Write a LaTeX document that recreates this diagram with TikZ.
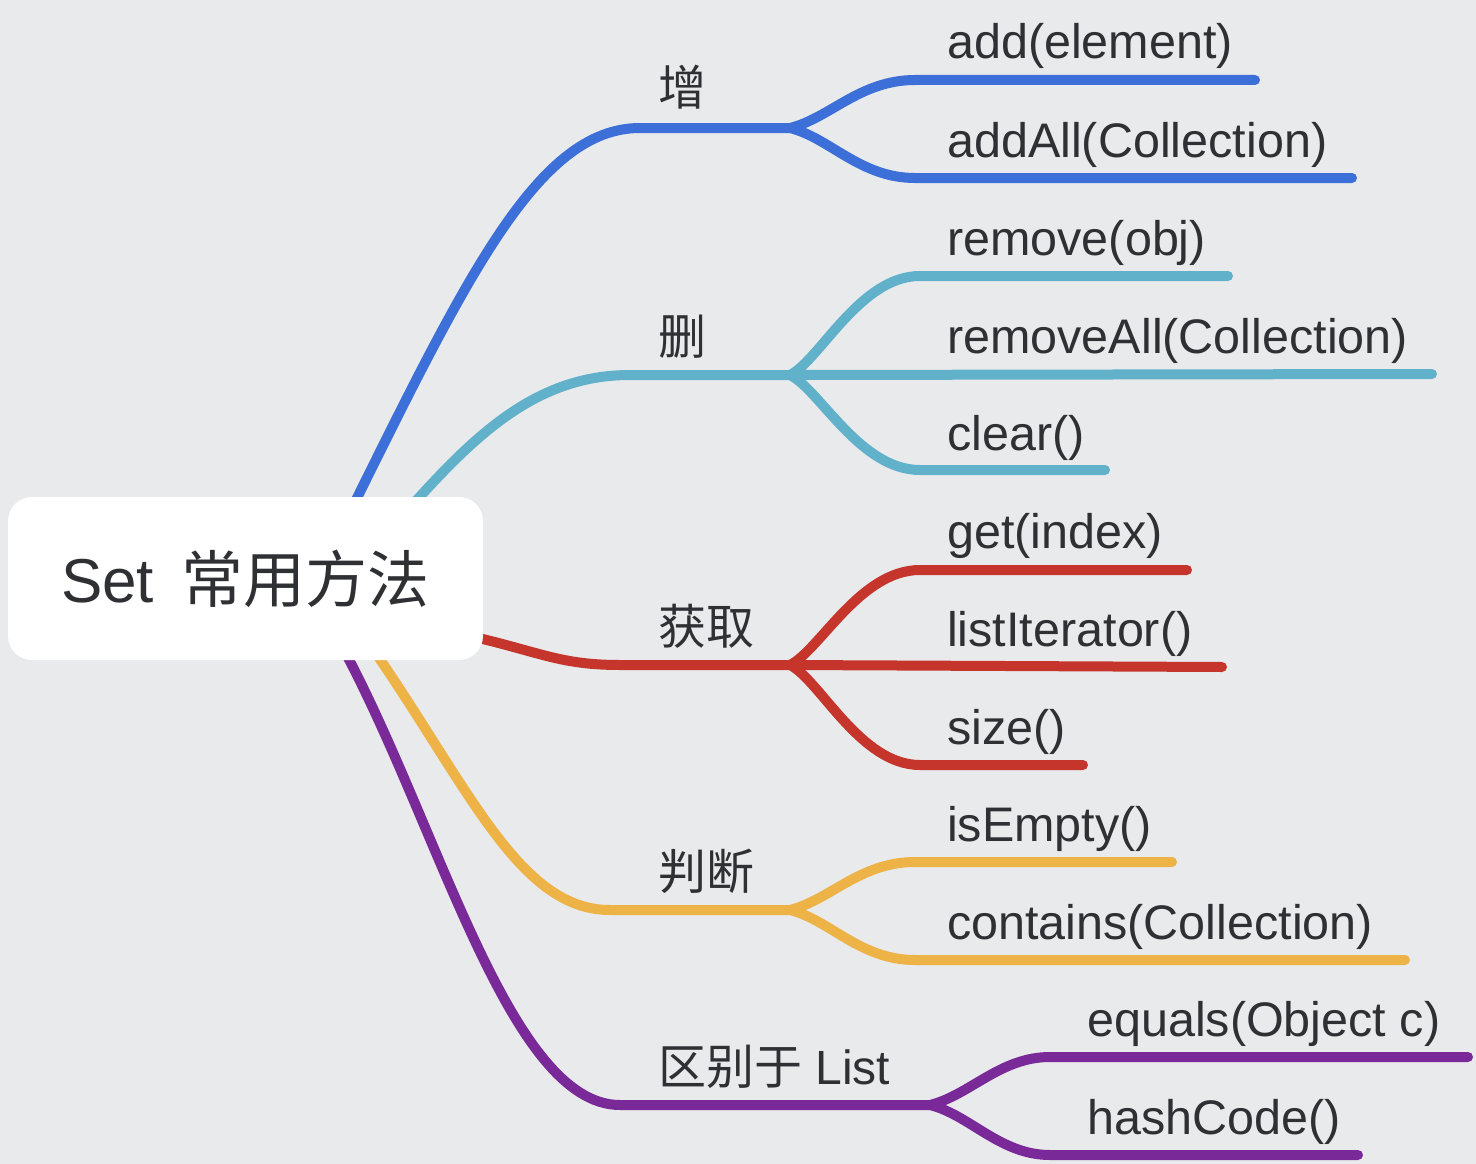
\documentclass[tikz,border=0pt]{standalone}
\usepackage{fontspec}
\setmainfont{Liberation Sans}
\newfontfamily\cjk{Noto Sans CJK SC}
\pgfdeclarelayer{back}
\pgfdeclarelayer{bg}
\pgfsetlayers{back,bg,main}
\definecolor{bgc}{HTML}{E9EAEC}
\definecolor{cblue}{HTML}{3D6FD9}
\definecolor{cteal}{HTML}{62B1CB}
\definecolor{cred}{HTML}{C5352C}
\definecolor{cyel}{HTML}{EDB347}
\definecolor{cpur}{HTML}{7A2A98}
\definecolor{txt}{HTML}{2E3033}
\begin{document}
\begin{tikzpicture}[x=1pt,y=-1pt,
  branch/.style={line width=10pt,line cap=round,line join=round},
  rootbox/.style={fill=white,draw=none,rounded corners=24pt,minimum width=475pt,minimum height=163pt,inner sep=0pt,
     font=\fontsize{62}{64}\selectfont,text=txt},
  lab/.style={anchor=base west,inner sep=0pt,text=txt,font=\fontsize{48}{50}\selectfont},
  leaf/.style={anchor=base west,inner sep=0pt,text=txt,font=\fontsize{48.5}{50}\selectfont}]
\begin{pgfonlayer}{back}
\fill[bgc] (0,0) rectangle (1476,1164);
\end{pgfonlayer}
\useasboundingbox (0,0) rectangle (1476,1164);

\node[rootbox] (root) at (245.5,578.5) {Set\hspace{0.45em}{\cjk 常用方法}};

% coordinates
\coordinate (sA) at (355,502);
\coordinate (sB) at (415,502);
\coordinate (sC) at (470,636);
\coordinate (sD) at (375,652);
\coordinate (sE) at (345,652);
\coordinate (fA) at (790,128);
\coordinate (fB) at (790,375);
\coordinate (fC) at (790,665);
\coordinate (fD) at (790,910);
\coordinate (fE) at (930,1105);
\coordinate (eA1) at (1255,80);
\coordinate (eA2) at (1352,178);
\coordinate (eB1) at (1228,276);
\coordinate (eB2) at (1432,374);
\coordinate (eB3) at (1105,470);
\coordinate (eC1) at (1187,570);
\coordinate (eC2) at (1222,667);
\coordinate (eC3) at (1083,765);
\coordinate (eD1) at (1172,862);
\coordinate (eD2) at (1405,960);
\coordinate (eE1) at (1468,1057);
\coordinate (eE2) at (1358,1155);

\begin{pgfonlayer}{bg}
% blue
\draw[branch,cblue] (sA) .. controls (470,270) and (540,128) .. (640,128) -- (fA);
\draw[branch,cblue] (fA) .. controls (830,118) and (860,80) .. (915,80) -- (eA1);
\draw[branch,cblue] (fA) .. controls (830,138) and (860,178) .. (915,178) -- (eA2);
% teal
\draw[branch,cteal] (sB) .. controls (480,430) and (540,375) .. (630,375) -- (fB);
\draw[branch,cteal] (fB) .. controls (820,360) and (860,276) .. (920,276) -- (eB1);
\draw[branch,cteal] (fB) -- (eB2);
\draw[branch,cteal] (fB) .. controls (820,390) and (860,470) .. (920,470) -- (eB3);
% red
\draw[branch,cred] (sC) .. controls (540,652) and (560,665) .. (620,665) -- (fC);
\draw[branch,cred] (fC) .. controls (820,650) and (860,570) .. (920,570) -- (eC1);
\draw[branch,cred] (fC) -- (eC2);
\draw[branch,cred] (fC) .. controls (820,680) and (860,765) .. (920,765) -- (eC3);
% yellow
\draw[branch,cyel] (sD) .. controls (470,790) and (520,910) .. (610,910) -- (fD);
\draw[branch,cyel] (fD) .. controls (830,900) and (860,862) .. (915,862) -- (eD1);
\draw[branch,cyel] (fD) .. controls (830,920) and (860,960) .. (915,960) -- (eD2);
% purple
\draw[branch,cpur] (sE) .. controls (440,830) and (510,1105) .. (620,1105) -- (fE);
\draw[branch,cpur] (fE) .. controls (970,1095) and (1000,1057) .. (1050,1057) -- (eE1);
\draw[branch,cpur] (fE) .. controls (970,1115) and (1000,1155) .. (1050,1155) -- (eE2);
\end{pgfonlayer}

% branch labels
\node[lab] (lA) at (658,106) {\cjk 增};
\node[lab] (lB) at (658,354) {\cjk 删};
\node[lab] (lC) at (658,644) {\cjk 获取};
\node[lab] (lD) at (658,889) {\cjk 判断};
\node[lab] (lE) at (658,1084) {{\cjk 区别于} List};

% leaves
\node[leaf] (a1) at (947,59) {add(element)};
\node[leaf] (a2) at (947,157) {addAll(Collection)};
\node[leaf] (b1) at (947,255) {remove(obj)};
\node[leaf] (b2) at (947,353) {removeAll(Collection)};
\node[leaf] (b3) at (947,450) {clear()};
\node[leaf] (c1) at (947,548) {get(index)};
\node[leaf] (c2) at (947,646) {listIterator()};
\node[leaf] (c3) at (947,744) {size()};
\node[leaf] (d1) at (947,841) {isEmpty()};
\node[leaf] (d2) at (947,939) {contains(Collection)};
\node[leaf] (e1) at (1087,1036) {equals(Object c)};
\node[leaf] (e2) at (1087,1134) {hashCode()};
\end{tikzpicture}
\end{document}
